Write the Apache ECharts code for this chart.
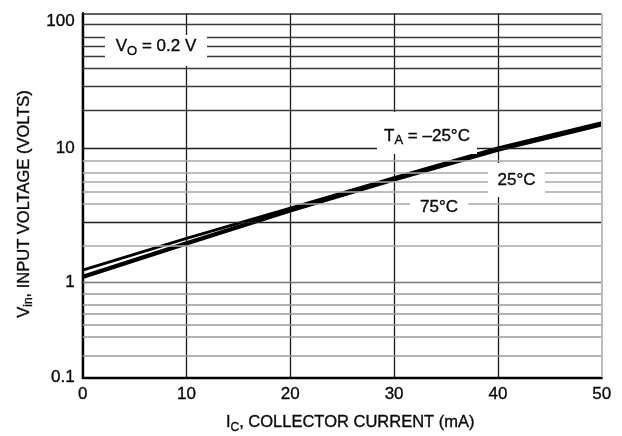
<!DOCTYPE html>
<html>
<head>
<meta charset="utf-8">
<script src="https://cdn.jsdelivr.net/npm/echarts@6/dist/echarts.min.js"></script>
<style>
  html, body { margin: 0; padding: 0; background: #fff; }
  #chart { width: 622px; height: 436px; }
</style>
</head>
<body>
<div id="chart"></div>
<script>
const FONT = "'Liberation Sans', Arial, Helvetica, sans-serif";

// Collector current, mA
const currentMA = [0, 10, 20, 30, 40, 50];
// Input voltage (V) needed for VO = 0.2 V at each ambient temperature
const vinMinus25C = [1.24, 2.13, 3.58, 6.02, 10.0, 15.4];
const vin25C      = [1.12, 1.98, 3.47, 5.90, 9.80, 15.1];
const vin75C      = [1.09, 1.93, 3.40, 5.78, 9.60, 14.8];

// Horizontal chart rules (volts)
const rulesUpperDecade = [83, 66, 56.5, 48.2, 39.1, 28.5, 19.1];
const rulesMiddleLight = [8.05, 6.6, 5.62, 4.74, 3.84, 1.87];
const rulesMiddleDark  = [10, 2.79];
const rulesLowerDecade = [0.774, 0.585, 0.467, 0.361, 0.272, 0.171];

// Curve annotations: [current mA, volts]
const noteVo = [7.06, 52.9];
const noteTa = [33.17, 12.9];
const note25 = [41.79, 5.79];
const note75 = [34.33, 3.62];

const INK = '#0a0a0a';
const inkStroke = { textBorderColor: INK, textBorderWidth: 0.35 };

function richSet(size) {
  return {
    m: Object.assign({ fontFamily: FONT, fontSize: size, color: INK, lineHeight: 22, verticalAlign: 'middle' }, inkStroke),
    s: Object.assign({ fontFamily: FONT, fontSize: Math.round(size * 0.74), color: INK, lineHeight: 6, verticalAlign: 'bottom' }, inkStroke)
  };
}
const richNote = richSet(17);
const richTitle = richSet(16.5);

const hRule = (v, color, width) => ({ yAxis: v, lineStyle: { color, width, type: 'solid' } });
const vRule = (v, color, width) => ({ xAxis: v, lineStyle: { color, width, type: 'solid' } });

const markLineBase = { silent: true, symbol: ['none', 'none'], label: { show: false }, animation: false };

function note(pos, text, w, h, dy) {
  return {
    coord: pos,
    symbol: 'rect',
    symbolSize: [w, h],
    itemStyle: { color: '#fff' },
    label: { show: true, position: 'inside', formatter: text, offset: [0, dy || 0], rich: richNote }
  };
}

const curve = ys => currentMA.map((x, i) => [x, ys[i]]);
const curveStyle = { color: '#000', width: 2.9 };

const xSplit = { show: true, showMaxLine: false, lineStyle: { color: '#1a1a1a', width: 1.3 } };
const tickFont = Object.assign({ fontFamily: FONT, fontSize: 17, color: INK }, inkStroke);

const option = {
  animation: false,
  backgroundColor: '#fff',
  grid: [
    { left: 82.7, right: 20.3, top: 13.3, height: 269.4 },
    { left: 82.7, right: 20.3, top: 282.7, height: 94.6 }
  ],
  xAxis: [
    {
      gridIndex: 0, type: 'value', min: 0, max: 50, interval: 10,
      axisLabel: { show: false }, axisTick: { show: false }, axisLine: { show: false },
      splitLine: xSplit
    },
    {
      gridIndex: 1, type: 'value', min: 0, max: 50, interval: 10,
      axisTick: { show: false },
      axisLine: { show: true, lineStyle: { color: '#000', width: 2.4 } },
      axisLabel: Object.assign({ margin: 9 }, tickFont),
      splitLine: xSplit,
      name: '{m|I}{s|C}{m|, COLLECTOR CURRENT (mA)}',
      nameLocation: 'middle', nameGap: 34,
      nameTextStyle: { rich: richTitle, padding: [0, 0, 0, 16] }
    }
  ],
  yAxis: [
    {
      gridIndex: 0, type: 'log', logBase: 10, min: 1, max: 100,
      axisTick: { show: false },
      axisLine: { show: true, onZero: false, lineStyle: { color: '#000', width: 2.4 } },
      splitLine: { show: false },
      axisLabel: Object.assign({ margin: 8, verticalAlignMaxLabel: 'top', formatter: v => String(v) }, tickFont),
      name: '{m|V}{s|in}{m|, INPUT VOLTAGE (VOLTS)}',
      nameLocation: 'middle', nameGap: 43,
      nameTextStyle: { rich: richTitle, padding: [0, 112, 0, 0] }
    },
    {
      gridIndex: 1, type: 'log', logBase: 10, min: 0.1, max: 1,
      axisTick: { show: false },
      axisLine: { show: true, onZero: false, lineStyle: { color: '#000', width: 2.4 } },
      splitLine: { show: false },
      axisLabel: Object.assign({ margin: 8, showMaxLabel: false, padding: [0, 0, 4, 0], formatter: v => String(v) }, tickFont)
    }
  ],
  series: [
    {
      name: 'rules-upper', type: 'line', xAxisIndex: 0, yAxisIndex: 0, data: [], z: 1,
      markLine: Object.assign({}, markLineBase, {
        data: [
          ...rulesUpperDecade.map(v => hRule(v, '#3a3a3a', 1.4)),
          ...rulesMiddleLight.map(v => hRule(v, '#a8a8a8', 1.6)),
          ...rulesMiddleDark.map(v => hRule(v, '#1e1e1e', 1.4)),
          hRule(100, '#2a2a2a', 1.6),
          hRule(1, '#777', 1.4),
          vRule(50, '#bdbdbd', 2)
        ]
      })
    },
    {
      name: 'rules-lower', type: 'line', xAxisIndex: 1, yAxisIndex: 1, data: [], z: 1,
      markLine: Object.assign({}, markLineBase, {
        data: [
          ...rulesLowerDecade.map(v => hRule(v, '#9a9a9a', 1.5)),
          vRule(50, '#bdbdbd', 2)
        ]
      })
    },
    {
      name: 'TA = -25°C', type: 'line', xAxisIndex: 0, yAxisIndex: 0, z: 3,
      data: curve(vinMinus25C), symbol: 'none', lineStyle: curveStyle
    },
    {
      name: 'TA = 25°C', type: 'line', xAxisIndex: 0, yAxisIndex: 0, z: 3,
      data: curve(vin25C), symbol: 'none', lineStyle: curveStyle
    },
    {
      name: 'TA = 75°C', type: 'line', xAxisIndex: 0, yAxisIndex: 0, z: 3,
      data: curve(vin75C), symbol: 'none', lineStyle: curveStyle
    },
    {
      name: 'notes', type: 'line', xAxisIndex: 0, yAxisIndex: 0, data: [], z: 4,
      markPoint: {
        silent: true, animation: false,
        data: [
          note(noteVo, '{m|V}{s|O}{m| = 0.2 V}', 102, 31, -4),
          note(noteTa, '{m|T}{s|A}{m| = –25°C}', 100, 42, 3),
          note(note25, '{m|25°C}', 57, 34, 0),
          note(note75, '{m|75°C}', 58, 23, 0)
        ]
      }
    }
  ]
};

const chart = echarts.init(document.getElementById('chart'), null, { renderer: 'canvas' });
chart.setOption(option);
</script>
</body>
</html>
